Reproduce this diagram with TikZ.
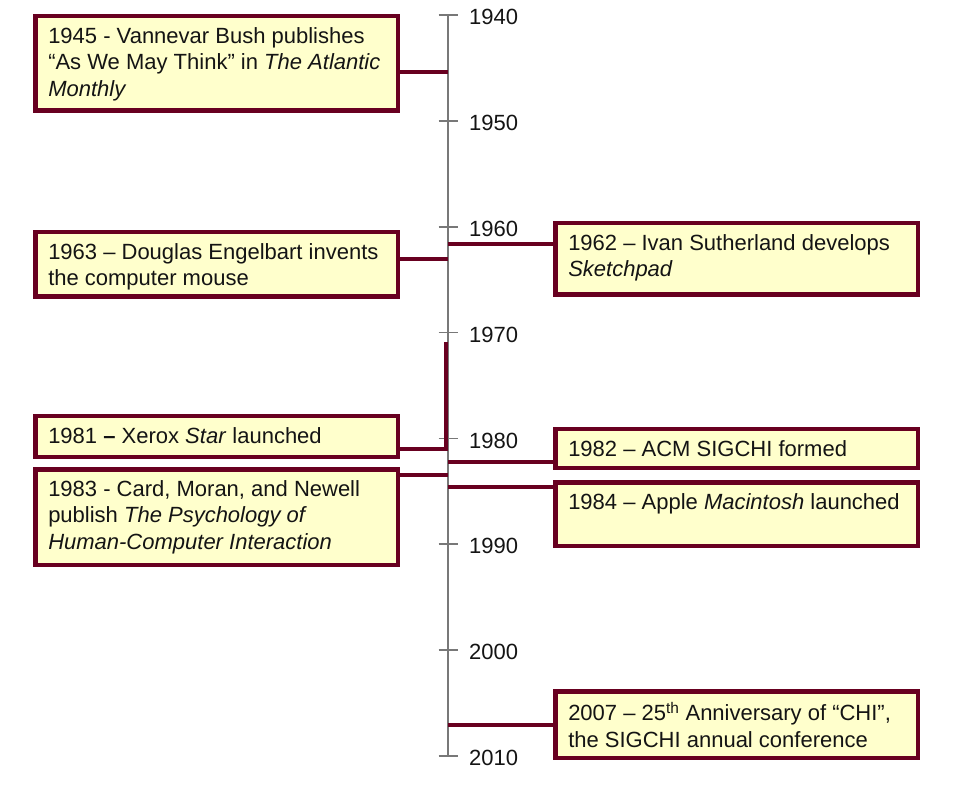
\documentclass[tikz,border=0pt]{standalone}
\usepackage{fontspec}
\setmainfont{Liberation Sans}
\definecolor{maroon}{RGB}{104,0,32}
\definecolor{paleyellow}{RGB}{255,255,204}
\definecolor{axisgray}{RGB}{120,120,120}
\definecolor{textgray}{RGB}{20,20,20}
\newcommand\evfont{\fontsize{22}{26.7}\selectfont}
\tikzset{
  evbox/.style={draw=maroon, line width=4.5pt, fill=paleyellow, anchor=north west,
    inner xsep=13pt, inner ysep=0pt, outer sep=0pt, text=textgray, font=\evfont},
  conn/.style={draw=maroon, line width=4.5pt},
  axisline/.style={draw=axisgray, line width=1.7pt},
  yearlbl/.style={anchor=west, inner sep=0pt, font=\evfont, text=textgray}
}
% name, x1, y1, x2, y2 (outer edges, pixel coords), text
\newcommand\evt[6]{%
  \node[evbox] (#1) at (#2+2.25,#3+2.25)
  {\begin{minipage}[c][\dimexpr #5pt-#3pt-4.5pt\relax][t]{\dimexpr #4pt-#2pt-30.5pt\relax}%
   \evfont\raggedright\vspace*{11pt}#6\end{minipage}};}
\begin{document}
\begin{tikzpicture}[x=1pt,y=-1pt]
\useasboundingbox (0,0) rectangle (970,794);
% axis
\coordinate (axtop) at (448,15);
\coordinate (axbot) at (448,756);
\draw[axisline] (axtop) -- (axbot);
\foreach \yr [count=\i from 0] in {1940,1950,...,2010} {
  \coordinate (t\yr) at (448,15+105.86*\i);
  \draw[axisline] ([xshift=-9.5pt]t\yr) -- ([xshift=9.5pt]t\yr);
  \node[yearlbl] (l\yr) at ([xshift=21pt,yshift=-2pt]t\yr) {\yr};
}
% connector points on the axis
\coordinate (c1945) at (448,72);
\coordinate (c1963) at (448,259);
\coordinate (c1962) at (448,244);
\coordinate (c1981) at (446,449);
\coordinate (c1981top) at (446,342);
\coordinate (c1982) at (448,462);
\coordinate (c1983) at (448,475);
\coordinate (c1984) at (448,487);
\coordinate (c2007) at (448,725);
% events
\evt{e1945}{33}{14}{400}{113}{1945 - Vannevar Bush publishes\\ “As We May Think” in \textit{The Atlantic}\\ \textit{Monthly}}
\evt{e1963}{33}{230}{400}{299}{1963 – Douglas Engelbart invents\\ the computer mouse}
\evt{e1962}{553}{221}{920}{297}{1962 – Ivan Sutherland develops\\ \textit{Sketchpad}}
\evt{e1981}{33}{414}{400}{459}{1981 \textbf{–} Xerox \textit{Star} launched}
\evt{e1983}{33}{467}{400}{567}{1983 - Card, Moran, and Newell\\ publish \textit{The Psychology of}\\ \textit{Human-Computer Interaction}}
\evt{e1982}{553}{427}{920}{470}{1982 – ACM SIGCHI formed}
\evt{e1984}{553}{480}{920}{548}{1984 – Apple \textit{Macintosh} launched}
\evt{e2007}{553}{689}{920}{760}{2007 – 25\textsuperscript{th} Anniversary of “CHI”,\\ the SIGCHI annual conference}
% connectors
\draw[conn] (e1945.east |- c1945) -- (c1945);
\draw[conn] (e1963.east |- c1963) -- (c1963);
\draw[conn] (c1962) -- (c1962 -| e1962.west);
\draw[conn] (e1981.east |- c1981) -- (c1981) -- (c1981top);
\draw[conn] (c1982) -- (c1982 -| e1982.west);
\draw[conn] (e1983.east |- c1983) -- (c1983);
\draw[conn] (c1984) -- (c1984 -| e1984.west);
\draw[conn] (c2007) -- (c2007 -| e2007.west);
\end{tikzpicture}
\end{document}
